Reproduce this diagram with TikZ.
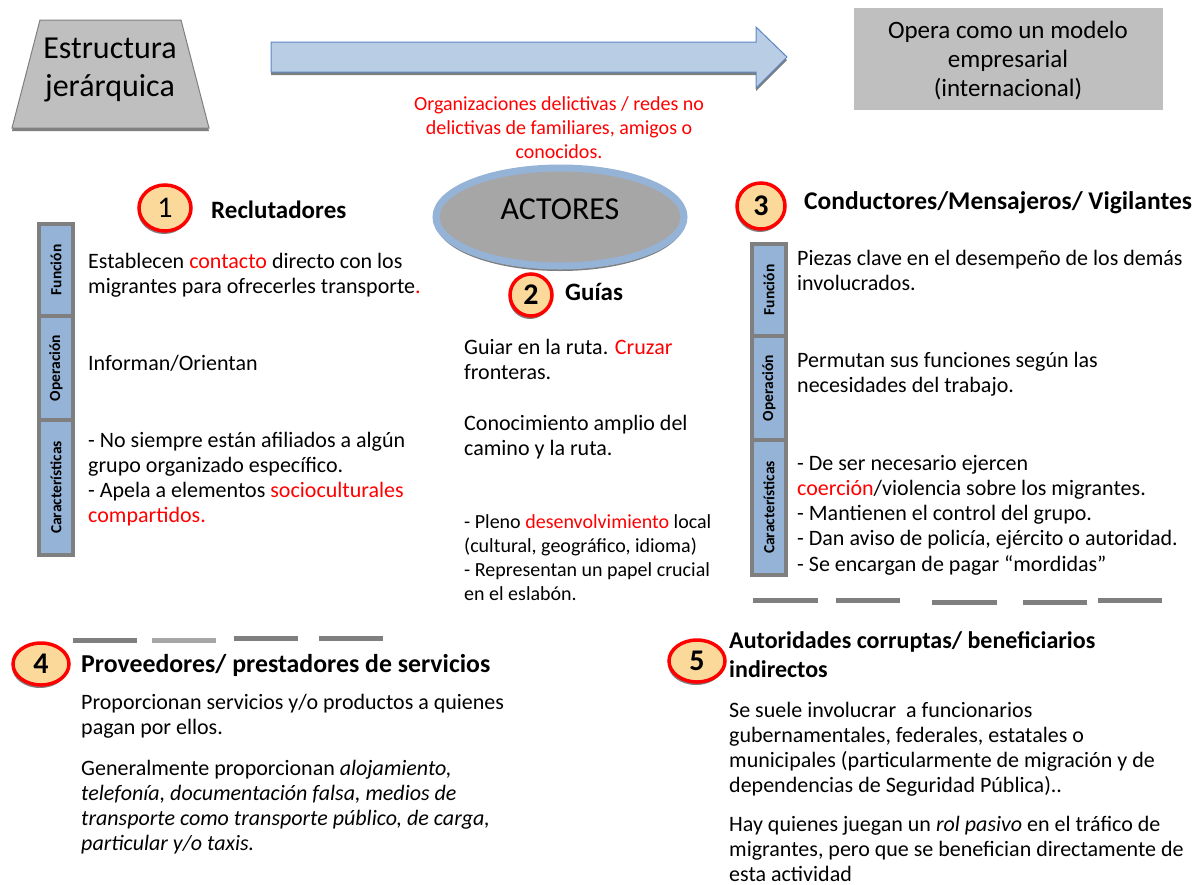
\documentclass[tikz,border=0pt]{standalone}
\usepackage{fontspec}
\setmainfont{Carlito}
\usetikzlibrary{shapes.geometric,shadows}
\definecolor{grisclaro}{HTML}{BFBFBF}
\definecolor{grismedio}{HTML}{A6A6A6}
\definecolor{grisoscuro}{HTML}{7F7F7F}
\definecolor{azulflecha}{HTML}{B9CDE5}
\definecolor{bordeflecha}{HTML}{5B87C5}
\definecolor{azulelipse}{HTML}{95B3D7}
\definecolor{crema}{HTML}{FAD99A}
\definecolor{rojo}{HTML}{FF0000}
\begin{document}
\begin{tikzpicture}[x=1pt, y=-1pt,
  cuerpo/.style={anchor=base west, align=left, inner sep=0pt, font=\fontsize{22}{25}\selectfont},
  titulo/.style={anchor=base west, align=left, inner sep=0pt, font=\bfseries\fontsize{25}{29}\selectfont},
  numero/.style={ellipse, draw=rojo, line width=3.5pt, fill=crema, inner sep=0pt, font=\bfseries\fontsize{30}{30}\selectfont, drop shadow={shadow xshift=-1pt, shadow yshift=-3pt, fill=grisoscuro, opacity=1}},
  pestana/.style={rotate=90, draw=grisoscuro, line width=3.5pt, fill=azulelipse, minimum height=34pt, inner sep=0pt, font=\bfseries\fontsize{15.5}{16}\selectfont},
  guion/.style={line width=5pt, draw=grisoscuro}]
\useasboundingbox (0,0) rectangle (1196,884);
\draw[draw=grisoscuro, fill=grisclaro, line width=1pt, drop shadow={shadow xshift=0pt, shadow yshift=-3pt, fill=grisoscuro, opacity=1}] (40,20) -- (181,20) -- (209,128) -- (12,128) -- cycle;
\node[font=\fontsize{32}{38}\selectfont, align=center] (estructura) at (110,69.5) {Estructura\\jerárquica};
\draw[fill=azulflecha, draw=bordeflecha, line width=1pt, drop shadow={shadow xshift=0pt, shadow yshift=-3pt, fill=grisoscuro, opacity=1}] (271,42) -- (756,42) -- (756,27) -- (787,57) -- (756,88) -- (756,72) -- (271,72) -- cycle;
\node[fill=grisclaro, minimum width=309pt, minimum height=102pt] (modelo) at (1008,59) {};
\node[font=\fontsize{25}{29}\selectfont, align=center] (modelo-texto) at (1008,61) {Opera como un modelo\\empresarial\\(internacional)};
\node[text=rojo, font=\fontsize{20}{24}\selectfont, align=center] (redes) at (559,128) {Organizaciones delictivas / redes no\\delictivas de familiares, amigos o\\conocidos.};
\node[ellipse, fill=grismedio, draw=azulelipse, line width=7pt, minimum width=248pt, minimum height=98pt, drop shadow={shadow xshift=0pt, shadow yshift=-5pt, fill=grisoscuro, opacity=1}] (actores) at (560,217) {};
\node[font=\fontsize{32}{32}\selectfont] (actores-texto) at (560,209) {ACTORES};
\node[numero, minimum width=52pt, minimum height=46pt, font=\fontsize{30}{30}\selectfont] (n1) at (165,208) {1};
\node[numero, minimum width=42pt, minimum height=42pt] (n2) at (531,295) {2};
\node[numero, minimum width=48pt, minimum height=46pt] (n3) at (761,206) {3};
\node[numero, minimum width=56pt, minimum height=42pt] (n4) at (41,664) {4};
\node[numero, minimum width=56pt, minimum height=42pt] (n5) at (697,661) {5};
\node[titulo] (reclutadores) at (211,218) {Reclutadores};
\node[titulo] (guias) at (565,300) {Guías};
\node[titulo, font=\bfseries\fontsize{25.5}{29}\selectfont] (conductores) at (804,209) {Conductores/Mensajeros/ Vigilantes};
\node[titulo, font=\bfseries\fontsize{25.8}{29}\selectfont] (proveedores) at (81,672) {Proveedores/ prestadores de servicios};
\node[titulo, font=\bfseries\fontsize{24}{29}\selectfont] (autoridades) at (729,677) {Autoridades corruptas/ beneficiarios\\indirectos};
\node[pestana, minimum width=92pt] (funcion1) at (56,270) {Función};
\node[pestana, minimum width=104pt] (operacion1) at (56,368) {Operación};
\node[pestana, minimum width=135pt] (caract1) at (56,487.5) {Características};
\node[pestana, minimum width=92pt] (funcion3) at (769,290) {Función};
\node[pestana, minimum width=104pt] (operacion3) at (769,388) {Operación};
\node[pestana, minimum width=135pt] (caract3) at (769,507.5) {Características};
\node[cuerpo] (funcion1-txt) at (88,293) {Establecen \textcolor{rojo}{contacto} directo con los\\migrantes para ofrecerles transporte\textcolor{rojo}{.}};
\node[cuerpo] (operacion1-txt) at (88,370) {Informan/Orientan};
\node[cuerpo] (caract1-txt) at (88,522) {- No siempre están afiliados a algún\\grupo organizado específico.\\- Apela a elementos \textcolor{rojo}{socioculturales}\\\textcolor{rojo}{compartidos.}};
\node[cuerpo] (guia1) at (464,379) {Guiar en la ruta. \textcolor{rojo}{Cruzar}\\fronteras.};
\node[cuerpo] (guia2) at (464,455) {Conocimiento amplio del\\camino y la ruta.};
\node[cuerpo, font=\fontsize{20}{23.7}\selectfont] (guia3) at (464,600) {- Pleno \textcolor{rojo}{desenvolvimiento} local\\(cultural, geográfico, idioma)\\- Representan un papel crucial\\en el eslabón.};
\node[cuerpo] (funcion3-txt) at (797,290) {Piezas clave en el desempeño de los demás\\involucrados.};
\node[cuerpo] (operacion3-txt) at (797,392) {Permutan sus funciones según las\\necesidades del trabajo.};
\node[cuerpo, font=\fontsize{22}{25.25}\selectfont] (caract3-txt) at (797,571) {- De ser necesario ejercen\\\textcolor{rojo}{coerción}/violencia sobre los migrantes.\\- Mantienen el control del grupo.\\- Dan aviso de policía, ejército o autoridad.\\- Se encargan de pagar “mordidas”};
\node[cuerpo] (prov1) at (81,734) {Proporcionan servicios y/o productos a quienes\\pagan por ellos.};
\node[cuerpo] (prov2) at (81,850) {Generalmente proporcionan \textit{alojamiento,}\\\textit{telefonía, documentación falsa, medios de}\\\textit{transporte como transporte público, de carga,}\\\textit{particular y/o taxis.}};
\node[cuerpo] (aut1) at (729,792) {Se suele involucrar\ \ a funcionarios\\gubernamentales, federales, estatales o\\municipales (particularmente de migración y de\\dependencias de Seguridad Pública)..};
\node[cuerpo, font=\fontsize{22}{24.8}\selectfont] (aut2) at (729,881) {Hay quienes juegan un \textit{rol pasivo} en el tráfico de\\migrantes, pero que se benefician directamente de\\esta actividad};
\draw[guion] (73,640) -- (137,640);
\draw[guion, draw=grismedio] (152,640) -- (216,640);
\draw[guion] (234,638) -- (298,638);
\draw[guion] (319,638) -- (383,638);
\draw[guion] (753,600) -- (818,600);
\draw[guion] (836,600) -- (900,600);
\draw[guion] (932,602) -- (997,602);
\draw[guion] (1023,602) -- (1087,602);
\draw[guion] (1098,600) -- (1162,600);
\end{tikzpicture}
\end{document}
